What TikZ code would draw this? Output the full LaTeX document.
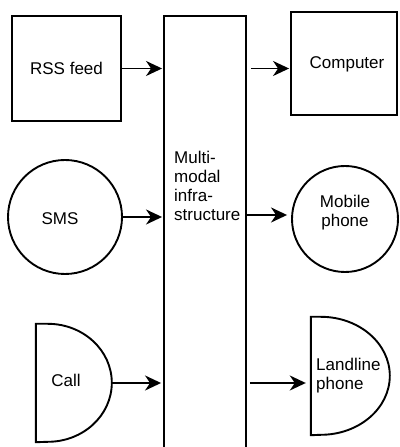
\documentclass[tikz,border=0pt]{standalone}
\usepackage{fontspec}
\setmainfont{Liberation Sans}
\usetikzlibrary{arrows.meta,calc}
\begin{document}
\begin{tikzpicture}[x=1pt,y=1pt,
  shp/.style={draw, line width=1.9pt, inner sep=0},
  box/.style={shp, rectangle},
  blank/.style={rectangle, inner sep=0},
  txt/.style={font=\fontsize{17}{19}\selectfont, inner sep=0, align=center},
  ltxt/.style={font=\fontsize{17}{19}\selectfont, inner sep=0, align=left},
  arr/.style={line width=1.9pt, -{Stealth[length=16pt,width=15pt,inset=5pt]}}]
\useasboundingbox (0,0) rectangle (399,447);
\begin{scope}
\clip (0,0) rectangle (399,447);
% left column
\node[box, minimum width=109, minimum height=105, txt] (rss) at (66.5,378.5) {RSS feed};
\node[shp, circle, minimum size=114] (sms) at (65,230) {};
\node[txt] (smstxt) at (60,228) {SMS};
\node[blank, minimum width=76, minimum height=118] (call) at (74,64) {};
\draw[line width=1.9pt] (call.north west) -- ++(12,0)
  arc[start angle=90, end angle=-90, x radius=64, y radius=59] -- (call.south west) -- cycle;
\node[txt] (calltxt) at (66,67) {Call};
% middle
\node[box, minimum width=82, minimum height=444] (mid) at (205,209) {};
\node[ltxt, anchor=north west] (midtxt) at (174,296) {Multi-\\modal\\infra-\\structure};
% right column
\node[box, minimum width=106, minimum height=103] (comp) at (344,383.5) {};
\node[txt] (comptxt) at (347,383) {Computer};
\node[shp, circle, minimum size=106] (mob) at (345,228) {};
\node[txt] (mobtxt) at (345,234) {Mobile\\phone};
\node[blank, minimum width=79, minimum height=118] (land) at (350.5,71) {};
\draw[line width=1.9pt] (land.north west) -- ++(10,0)
  arc[start angle=90, end angle=-90, x radius=69, y radius=59] -- (land.south west) -- cycle;
\node[ltxt, anchor=west] (landtxt) at (316,71) {Landline\\phone};
% connectors
\draw[arr] (rss.east) -- ([xshift=-1pt]rss.east -| mid.west);
\draw[arr] ([xshift=4pt]mid.east |- rss.east) -- ([xshift=-1pt]comp.west |- rss.east);
\draw[arr] (sms.east) -- ([xshift=-1pt]sms.east -| mid.west);
\draw[arr] ([yshift=4pt]mid.east |- mob.west) -- ([xshift=-4pt,yshift=4pt]mob.west);
\draw[arr] (call.east) -- ([xshift=-2pt]call.east -| mid.west);
\draw[arr] ([xshift=3pt]mid.east |- call.east) -- ([xshift=-5pt]land.west |- call.east);
\end{scope}
\end{tikzpicture}
\end{document}
